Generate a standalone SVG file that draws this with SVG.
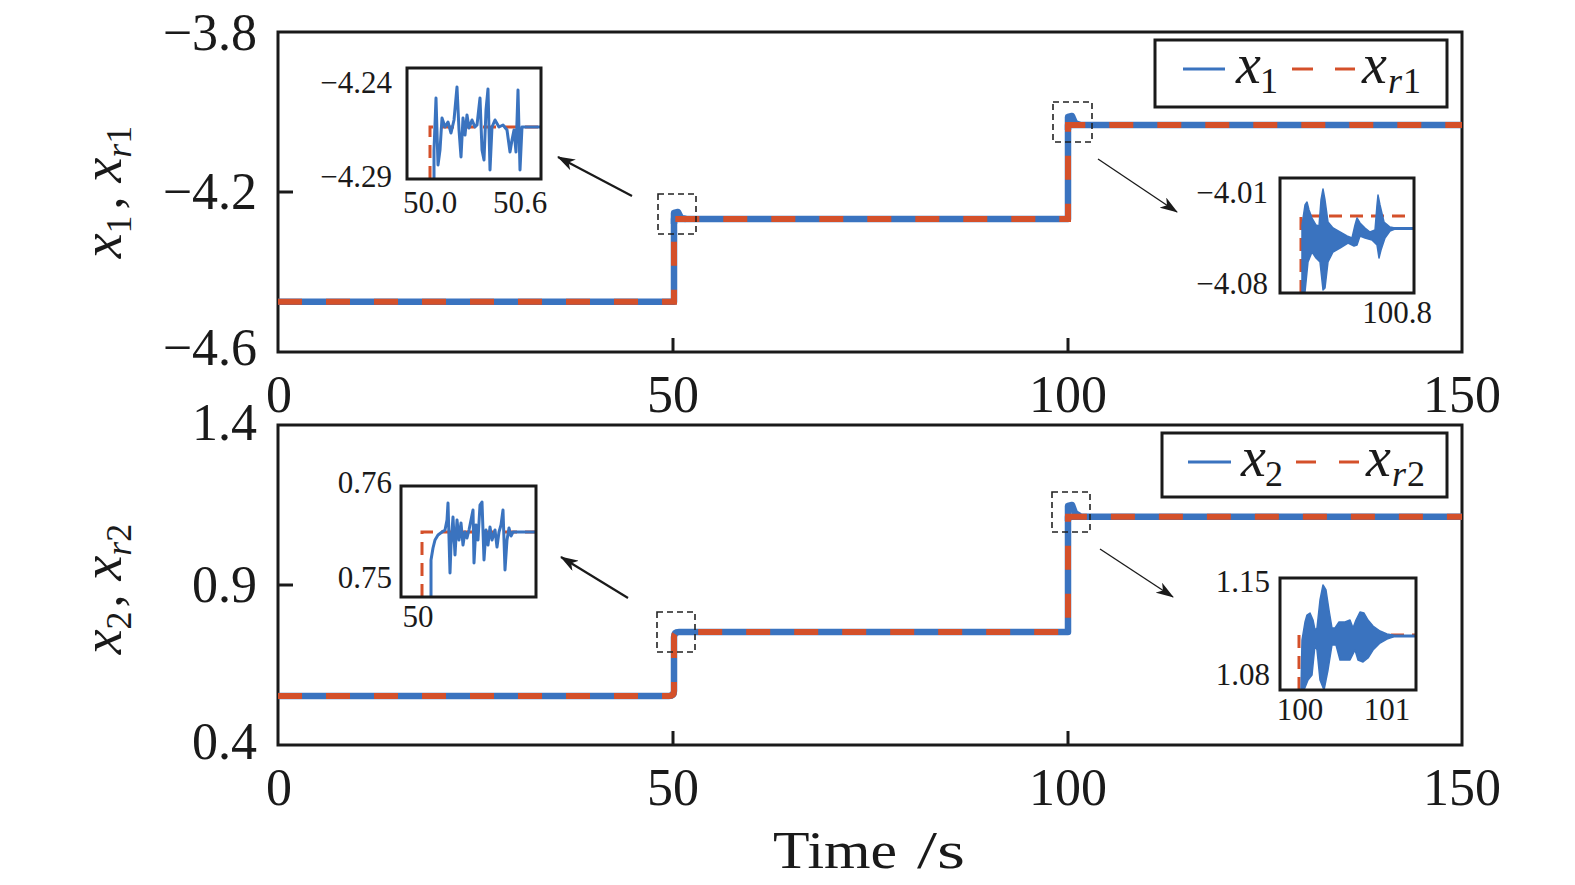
<svg xmlns="http://www.w3.org/2000/svg" width="1575" height="885" viewBox="0 0 1575 885">
<style>
.ax{fill:none;stroke:#1a1a1a;stroke-width:3}
.tk{stroke:#1a1a1a;stroke-width:3}
.t{font-family:"Liberation Serif","Times New Roman",serif;fill:#1a1a1a}
.big{font-size:52px}
.sm{font-size:31px}
.it{font-style:italic}
.blue{fill:none;stroke:#3A73BF;stroke-width:6.5;stroke-linejoin:round}
.red{fill:none;stroke:#D4502A;stroke-width:6;stroke-dasharray:24 24}
.ib{fill:none;stroke:#3A73BF;stroke-width:3;stroke-linejoin:round}
.ibf{fill:#3A73BF;stroke:#3A73BF;stroke-width:1.5;stroke-linejoin:round}
.ir{fill:none;stroke:#D4502A;stroke-width:3;stroke-dasharray:13 8}
.zb{fill:none;stroke:#222;stroke-width:1.6;stroke-dasharray:6 4}
.arr{fill:none;stroke:#1a1a1a}
</style>
<defs>
<marker id="ah" markerUnits="userSpaceOnUse" markerWidth="18" markerHeight="12" viewBox="0 0 18 12" refX="17" refY="6" orient="auto">
<path d="M0,0 L18,6 L0,12 L5,6 Z" fill="#1a1a1a"/>
</marker>
</defs>
<rect width="1575" height="885" fill="#fff"/>

<g id="top-axes">
<rect class="ax" x="278" y="32" width="1184" height="320"/>
<line class="tk" x1="673" y1="352" x2="673" y2="338"/>
<line class="tk" x1="1068" y1="352" x2="1068" y2="338"/>
<line class="tk" x1="278" y1="192" x2="293" y2="192"/>
<text class="t big" x="257" y="50" text-anchor="end">−3.8</text>
<text class="t big" x="257" y="209" text-anchor="end">−4.2</text>
<text class="t big" x="257" y="365" text-anchor="end">−4.6</text>
<text class="t big" x="279" y="412" text-anchor="middle">0</text>
<text class="t big" x="673" y="412" text-anchor="middle">50</text>
<text class="t big" x="1068" y="412" text-anchor="middle">100</text>
<text class="t big" x="1462" y="412" text-anchor="middle">150</text>
<text class="t big" transform="translate(121,192) rotate(-90)" text-anchor="middle"><tspan class="it" font-size="56">x</tspan><tspan font-size="36" dy="10">1</tspan><tspan dy="-10" dx="6">,</tspan><tspan class="it" font-size="56" dx="14">x</tspan><tspan class="it" font-size="36" dy="10">r</tspan><tspan font-size="36">1</tspan></text>
</g>

<g id="top-series">
<path class="blue" d="M278,301.7 H674 V219 H1068 V125 H1462"/>
<path class="blue" d="M674,224 L674,213 L678,212 L681,218 L686,219"/>
<path class="blue" d="M1068,130 L1068,117 L1072,116 L1075,123 L1080,125"/>
<path class="red" d="M278,301.7 H674 V219 H1068 V125 H1462"/>
</g>

<g id="top-legend">
<rect x="1155" y="40" width="292" height="67" fill="#fff" stroke="#1a1a1a" stroke-width="3"/>
<line x1="1183" y1="69" x2="1225" y2="69" stroke="#3A73BF" stroke-width="3"/>
<text class="t it" x="1236" y="83" font-size="56">x</text>
<text class="t" x="1260" y="93" font-size="36">1</text>
<line x1="1292" y1="69" x2="1313" y2="69" stroke="#D4502A" stroke-width="3"/>
<line x1="1335" y1="69" x2="1355" y2="69" stroke="#D4502A" stroke-width="3"/>
<text class="t it" x="1362" y="83" font-size="56">x</text>
<text class="t it" x="1388" y="93" font-size="36">r</text>
<text class="t" x="1403" y="93" font-size="36">1</text>
</g>

<g id="top-zoom1">
<rect class="zb" x="658" y="194" width="38" height="40"/>
<rect x="407" y="68" width="134" height="111" fill="#fff"/>
<path class="ir" d="M430,179 V127 H541"/>
<polyline class="ib" points="434,179 434,150 436,98 438,165 440,150 442,118 445,127 448,122 451,133 454,120 457,87 459,130 461,157 463,118 465,135 467,115 469,128 472,120 475,127 477,125 480,98 482,150 484,160 486,110 488,89 490,170 492,127 495,120 499,127 503,125 507,130 510,152 512,140 514,130 516,152 518,90 520,170 522,127 541,127"/>
<rect class="ax" x="407" y="68" width="134" height="111"/>
<text class="t sm" x="392" y="93" text-anchor="end">−4.24</text>
<text class="t sm" x="392" y="187" text-anchor="end">−4.29</text>
<text class="t sm" x="430" y="213" text-anchor="middle">50.0</text>
<text class="t sm" x="520" y="213" text-anchor="middle">50.6</text>
</g>

<g id="top-zoom2">
<rect class="zb" x="1053" y="102" width="39" height="40"/>
<rect x="1280" y="178" width="134" height="115" fill="#fff"/>
<path class="ir" d="M1301,293 V216 H1414"/>
<polygon class="ibf" points="1302,292 1302,225 1305,205 1307,202 1309,210 1312,218 1316,225 1319,226 1321,200 1323,189 1325,200 1328,222 1333,228 1340,232 1347,236 1352,238 1355,225 1357,218 1360,223 1365,228 1370,232 1375,230 1377,205 1378,195 1380,205 1384,222 1390,227 1395,228 1395,229 1390,231 1385,238 1381,250 1379,258 1377,245 1372,240 1365,238 1360,236 1357,245 1354,246 1348,243 1340,248 1333,252 1328,262 1325,288 1323,290 1320,262 1316,258 1312,252 1308,262 1305,292"/>
<line x1="1394" y1="228.5" x2="1414" y2="228.5" stroke="#3A73BF" stroke-width="3"/>
<rect class="ax" x="1280" y="178" width="134" height="115"/>
<text class="t sm" x="1268" y="203" text-anchor="end">−4.01</text>
<text class="t sm" x="1268" y="294" text-anchor="end">−4.08</text>
<text class="t sm" x="1432" y="323" text-anchor="end">100.8</text>
</g>

<g id="bottom-axes">
<rect class="ax" x="278" y="425" width="1184" height="320"/>
<line class="tk" x1="673" y1="745" x2="673" y2="731"/>
<line class="tk" x1="1068" y1="745" x2="1068" y2="731"/>
<line class="tk" x1="278" y1="585" x2="293" y2="585"/>
<text class="t big" x="257" y="440" text-anchor="end">1.4</text>
<text class="t big" x="257" y="602" text-anchor="end">0.9</text>
<text class="t big" x="257" y="759" text-anchor="end">0.4</text>
<text class="t big" x="279" y="805" text-anchor="middle">0</text>
<text class="t big" x="673" y="805" text-anchor="middle">50</text>
<text class="t big" x="1068" y="805" text-anchor="middle">100</text>
<text class="t big" x="1462" y="805" text-anchor="middle">150</text>
<text class="t big" transform="translate(121,589) rotate(-90)" text-anchor="middle"><tspan class="it" font-size="56">x</tspan><tspan font-size="36" dy="10">2</tspan><tspan dy="-10" dx="4">,</tspan><tspan class="it" font-size="56" dx="14">x</tspan><tspan class="it" font-size="36" dy="10">r</tspan><tspan font-size="36">2</tspan></text>
<text class="t" x="773" y="868" font-size="52" textLength="124" lengthAdjust="spacingAndGlyphs">Time</text>
<text class="t" x="917" y="868" font-size="52" textLength="48" lengthAdjust="spacingAndGlyphs">/s</text>
</g>

<g id="bottom-series">
<path class="blue" d="M278,696 H669 Q674,696 674,691 V637 Q674,632 679,632 H1068 V516.7 H1462"/>
<path class="blue" d="M1068,521 L1068,506 L1072,505 L1075,513 L1080,516"/>
<path class="red" d="M278,696 H669 Q674,696 674,691 V637 Q674,632 679,632 H1068 V516.7 H1462"/>
</g>

<g id="bottom-legend">
<rect x="1162" y="433" width="285" height="64" fill="#fff" stroke="#1a1a1a" stroke-width="3"/>
<line x1="1188" y1="462" x2="1231" y2="462" stroke="#3A73BF" stroke-width="3"/>
<text class="t it" x="1241" y="476" font-size="56">x</text>
<text class="t" x="1265" y="486" font-size="36">2</text>
<line x1="1296" y1="462" x2="1316" y2="462" stroke="#D4502A" stroke-width="3"/>
<line x1="1339" y1="462" x2="1359" y2="462" stroke="#D4502A" stroke-width="3"/>
<text class="t it" x="1366" y="476" font-size="56">x</text>
<text class="t it" x="1392" y="486" font-size="36">r</text>
<text class="t" x="1407" y="486" font-size="36">2</text>
</g>

<g id="bottom-zoom1">
<rect class="zb" x="657" y="612" width="38" height="40"/>
<rect x="401" y="486" width="135" height="111" fill="#fff"/>
<path class="ir" d="M422,597 V532 H536"/>
<polyline class="ib" points="431,597 431,560 433,548 435,540 438,535 442,532 445,530 447,520 448,503 450,573 451,545 453,517 455,555 457,520 459,540 461,523 463,545 465,532 467,538 469,530 471,520 473,510 474,563 476,525 478,540 480,505 482,502 484,560 486,530 488,545 490,527 492,540 495,530 497,547 499,532 501,525 503,510 505,570 507,540 509,528 511,536 513,532 536,532"/>
<rect class="ax" x="401" y="486" width="135" height="111"/>
<text class="t sm" x="392" y="493" text-anchor="end">0.76</text>
<text class="t sm" x="392" y="588" text-anchor="end">0.75</text>
<text class="t sm" x="418" y="627" text-anchor="middle">50</text>
</g>

<g id="bottom-zoom2">
<rect class="zb" x="1052" y="492" width="38" height="40"/>
<rect x="1280" y="578" width="136" height="112" fill="#fff"/>
<path class="ir" d="M1299,690 V635 H1416"/>
<polygon class="ibf" points="1301,690 1302,640 1305,622 1307,615 1310,613 1313,620 1315,630 1317,628 1320,600 1323,585 1326,590 1329,610 1332,628 1335,628 1339,622 1345,622 1350,620 1353,628 1356,620 1360,612 1364,613 1368,620 1373,626 1380,631 1387,634 1393,635 1393,637 1387,639 1380,643 1373,650 1368,658 1363,662 1358,660 1355,650 1350,660 1345,660 1340,660 1336,645 1332,645 1328,670 1324,690 1320,680 1317,650 1315,645 1312,675 1308,680 1304,690"/>
<line x1="1392" y1="636" x2="1416" y2="636" stroke="#3A73BF" stroke-width="3"/>
<rect class="ax" x="1280" y="578" width="136" height="112"/>
<text class="t sm" x="1270" y="592" text-anchor="end">1.15</text>
<text class="t sm" x="1270" y="685" text-anchor="end">1.08</text>
<text class="t sm" x="1300" y="720" text-anchor="middle">100</text>
<text class="t sm" x="1387" y="720" text-anchor="middle">101</text>
</g>

<g id="connectors">
<line class="arr" x1="632" y1="196" x2="558" y2="157" stroke-width="2.2" marker-end="url(#ah)"/>
<line class="arr" x1="1098" y1="159" x2="1177" y2="212" stroke-width="1.3" marker-end="url(#ah)"/>
<line class="arr" x1="628" y1="598" x2="561" y2="557" stroke-width="2.2" marker-end="url(#ah)"/>
<line class="arr" x1="1100" y1="549" x2="1173" y2="597" stroke-width="1.3" marker-end="url(#ah)"/>
</g>
</svg>
